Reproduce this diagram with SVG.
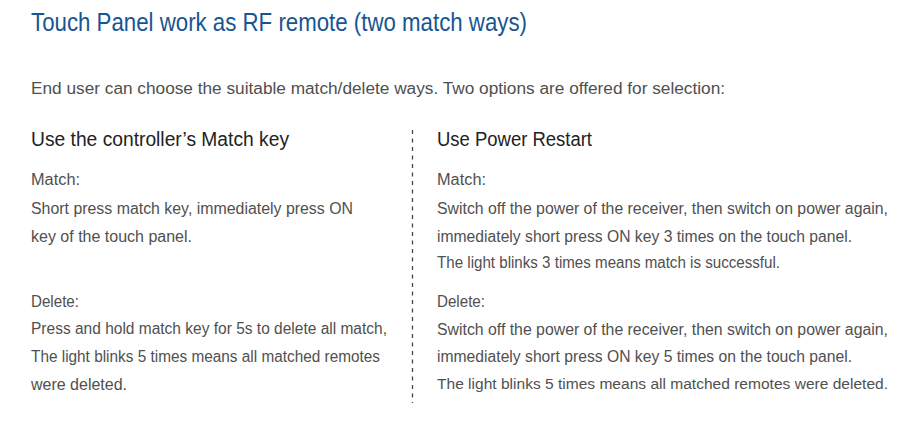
<svg xmlns="http://www.w3.org/2000/svg" width="899" height="422" viewBox="0 0 899 422">
<style>
.title{font-family:"Liberation Sans",Arial,sans-serif;font-size:26px;fill:#175593}
.intro{font-family:"Liberation Sans",Arial,sans-serif;font-size:16px;fill:#4f4f4f}
.head{font-family:"Liberation Sans",Arial,sans-serif;font-size:20px;fill:#222}
.body{font-family:"Liberation Sans",Arial,sans-serif;font-size:15.6px;fill:#505050}
.sep{stroke:#444;stroke-width:1.3;stroke-dasharray:4 4.5;fill:none}
</style>
<rect width="899" height="422" fill="#fff"/>
<g id="title"><text class="title" x="31" y="31" textLength="496" lengthAdjust="spacingAndGlyphs">Touch Panel work as RF remote (two match ways)</text></g>
<g id="intro"><text class="intro" x="31" y="94" textLength="694" lengthAdjust="spacingAndGlyphs">End user can choose the suitable match/delete ways. Two options are offered for selection:</text></g>
<g id="connectors"><line class="sep" x1="412.5" y1="130" x2="412.5" y2="403"/></g>
<g id="left">
<text class="head" x="31" y="146" textLength="258" lengthAdjust="spacingAndGlyphs">Use the controller’s Match key</text>
<text class="body" x="31" y="185" textLength="49" lengthAdjust="spacingAndGlyphs">Match:</text>
<text class="body" x="31" y="214" textLength="322" lengthAdjust="spacingAndGlyphs">Short press match key, immediately press ON</text>
<text class="body" x="31" y="242" textLength="161" lengthAdjust="spacingAndGlyphs">key of the touch panel.</text>
<text class="body" x="31" y="306.5" textLength="48" lengthAdjust="spacingAndGlyphs">Delete:</text>
<text class="body" x="31" y="334" textLength="356" lengthAdjust="spacingAndGlyphs">Press and hold match key for 5s to delete all match,</text>
<text class="body" x="31" y="361.5" textLength="349" lengthAdjust="spacingAndGlyphs">The light blinks 5 times means all matched remotes</text>
<text class="body" x="31" y="390" textLength="96" lengthAdjust="spacingAndGlyphs">were deleted.</text>
</g>
<g id="right">
<text class="head" x="437" y="145.5" textLength="155" lengthAdjust="spacingAndGlyphs">Use Power Restart</text>
<text class="body" x="437" y="185" textLength="49" lengthAdjust="spacingAndGlyphs">Match:</text>
<text class="body" x="437" y="214" textLength="451" lengthAdjust="spacingAndGlyphs">Switch off the power of the receiver, then switch on power again,</text>
<text class="body" x="437" y="241.5" textLength="415" lengthAdjust="spacingAndGlyphs">immediately short press ON key 3 times on the touch panel.</text>
<text class="body" x="437" y="268" textLength="343" lengthAdjust="spacingAndGlyphs">The light blinks 3 times means match is successful.</text>
<text class="body" x="437" y="306.5" textLength="48" lengthAdjust="spacingAndGlyphs">Delete:</text>
<text class="body" x="437" y="335" textLength="451" lengthAdjust="spacingAndGlyphs">Switch off the power of the receiver, then switch on power again,</text>
<text class="body" x="437" y="361.5" textLength="415" lengthAdjust="spacingAndGlyphs">immediately short press ON key 5 times on the touch panel.</text>
<text class="body" x="437" y="388.5" textLength="451" lengthAdjust="spacingAndGlyphs" style="font-size:15.2px">The light blinks 5 times means all matched remotes were deleted.</text>
</g>
</svg>
